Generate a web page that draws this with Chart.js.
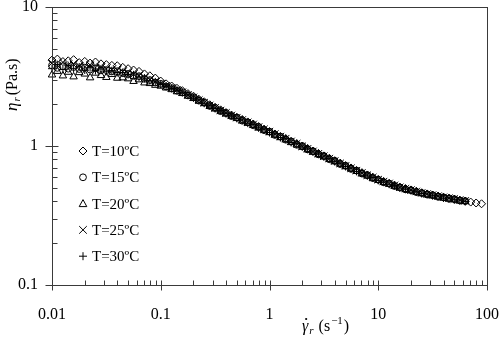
<!DOCTYPE html>
<html>
<head>
<meta charset="utf-8">
<script src="https://cdn.jsdelivr.net/npm/chart.js@4.4.0/dist/chart.umd.min.js"></script>
<style>
  html, body { margin: 0; padding: 0; background: #fff; }
  #wrap { width: 502px; height: 346px; }
</style>
</head>
<body>
<div id="wrap"><canvas id="viscChart"></canvas></div>
<script>
// reduced shear rate (s^-1)
var shearRate = [
  0.01, 0.0112, 0.0126, 0.0141, 0.0158, 0.0178, 0.02, 0.0224, 0.0251, 0.0282,
  0.0316, 0.0355, 0.0398, 0.0447, 0.0501, 0.0562, 0.0631, 0.0708, 0.0794, 0.0891,
  0.1, 0.112, 0.126, 0.141, 0.158, 0.178, 0.2, 0.224, 0.251, 0.282,
  0.316, 0.355, 0.398, 0.447, 0.501, 0.562, 0.631, 0.708, 0.794, 0.891,
  1, 1.12, 1.26, 1.41, 1.58, 1.78, 2, 2.24, 2.51, 2.82,
  3.16, 3.55, 3.98, 4.47, 5.01, 5.62, 6.31, 7.08, 7.94, 8.91,
  10, 11.2, 12.6, 14.1, 15.8, 17.8, 20, 22.4, 25.1, 28.2,
  31.6, 35.5, 39.8, 44.7, 50.1, 56.2, 63.1, 70.8, 79.4, 89.1
];

// reduced viscosity (Pa.s) per temperature
var eta10 = [
  4.15, 4.22, 4.05, 4.10, 4.18, 3.98, 4.06, 3.95, 4.02, 3.90,
  3.85, 3.80, 3.78, 3.68, 3.60, 3.52, 3.44, 3.30, 3.20, 3.08,
  2.93, 2.80, 2.70, 2.60, 2.50, 2.38, 2.28, 2.17, 2.08, 1.98,
  1.90, 1.82, 1.74, 1.67, 1.61, 1.55, 1.49, 1.44, 1.38, 1.32,
  1.27, 1.22, 1.17, 1.13, 1.08, 1.04, 1.00, 0.96, 0.92, 0.884,
  0.849, 0.816, 0.784, 0.753, 0.723, 0.695, 0.667, 0.643, 0.619, 0.596,
  0.575, 0.556, 0.539, 0.523, 0.506, 0.494, 0.483, 0.472, 0.461, 0.452,
  0.444, 0.436, 0.428, 0.421, 0.414, 0.407, 0.401, 0.395, 0.389, 0.384
];
var eta15 = [
  3.80, 3.65, 3.75, 3.60, 3.70, 3.58, 3.66, 3.55, 3.62, 3.50,
  3.52, 3.44, 3.45, 3.34, 3.30, 3.20, 3.18, 3.04, 2.98, 2.86,
  2.80, 2.68, 2.61, 2.50, 2.44, 2.31, 2.24, 2.12, 2.05, 1.94,
  1.88, 1.78, 1.73, 1.64, 1.60, 1.52, 1.48, 1.41, 1.37, 1.30,
  1.27, 1.20, 1.17, 1.11, 1.08, 1.02, 1.00, 0.944, 0.918, 0.870,
  0.848, 0.803, 0.782, 0.741, 0.721, 0.684, 0.666, 0.633, 0.617, 0.587,
  0.572, 0.548, 0.537, 0.515, 0.504, 0.487, 0.481, 0.466, 0.459, 0.447,
  0.443, 0.431, 0.427, 0.417, 0.415, 0.405, 0.402, null, null, null
];
var eta20 = [
  3.25, 3.45, 3.20, 3.40, 3.15, 3.38, 3.30, 3.10, 3.35, 3.22,
  3.12, 3.28, 3.08, 3.10, 3.05, 2.92, 3.00, 2.85, 2.82, 2.74,
  2.70, 2.62, 2.55, 2.46, 2.39, 2.29, 2.20, 2.11, 2.02, 1.93,
  1.85, 1.78, 1.70, 1.64, 1.58, 1.52, 1.46, 1.41, 1.35, 1.30,
  1.25, 1.20, 1.15, 1.11, 1.06, 1.02, 0.98, 0.942, 0.903, 0.869,
  0.835, 0.802, 0.771, 0.741, 0.711, 0.684, 0.657, 0.633, 0.609, 0.587,
  0.566, 0.548, 0.531, 0.515, 0.499, 0.488, 0.477, 0.466, 0.455, 0.447,
  0.439, 0.431, 0.423, 0.417, 0.411, 0.404, 0.399, null, null, null
];
var eta25 = [
  3.95, 3.80, 4.00, 3.75, 3.85, 3.78, 3.70, 3.82, 3.65, 3.68,
  3.58, 3.55, 3.50, 3.42, 3.35, 3.28, 3.20, 3.10, 3.00, 2.91,
  2.81, 2.71, 2.62, 2.53, 2.44, 2.33, 2.24, 2.14, 2.05, 1.96,
  1.88, 1.80, 1.73, 1.66, 1.60, 1.54, 1.48, 1.43, 1.37, 1.32,
  1.27, 1.22, 1.17, 1.13, 1.08, 1.04, 0.995, 0.955, 0.915, 0.880,
  0.845, 0.812, 0.780, 0.750, 0.720, 0.692, 0.665, 0.641, 0.617, 0.594,
  0.573, 0.555, 0.538, 0.521, 0.505, 0.493, 0.482, 0.471, 0.460, 0.452,
  0.444, 0.436, 0.428, 0.422, 0.416, 0.409, 0.403, null, null, null
];
var eta30 = [
  3.60, 3.85, 3.55, 3.78, 3.62, 3.70, 3.52, 3.66, 3.50, 3.58,
  3.45, 3.48, 3.38, 3.38, 3.27, 3.25, 3.14, 3.08, 2.95, 2.89,
  2.78, 2.70, 2.59, 2.52, 2.42, 2.33, 2.22, 2.14, 2.03, 1.96,
  1.86, 1.80, 1.71, 1.66, 1.58, 1.54, 1.46, 1.43, 1.35, 1.32,
  1.25, 1.22, 1.15, 1.13, 1.06, 1.04, 0.985, 0.955, 0.905, 0.880,
  0.836, 0.812, 0.772, 0.750, 0.712, 0.692, 0.657, 0.640, 0.610, 0.593,
  0.566, 0.553, 0.531, 0.520, 0.499, 0.492, 0.477, 0.470, 0.455, 0.451,
  0.439, 0.435, 0.423, 0.421, 0.411, 0.408, 0.399, null, null, null
];

var seriesLabels = ["T=10ºC", "T=15ºC", "T=20ºC", "T=25ºC", "T=30ºC"];
var seriesStyles = ["rectRot", "circle", "triangle", "crossRot", "cross"];
var seriesRadius = [4, 3.4, 4.3, 5.2, 4];

var xTickValues = [0.01, 0.1, 1, 10, 100];
var xTickLabels = ["0.01", "0.1", "1", "10", "100"];
var yTickValues = [0.1, 1, 10];
var yTickLabels = ["0.1", "1", "10"];

var serif = "'Liberation Serif', 'Times New Roman', serif";
var axisColor = '#3a3a3a';

function toPoints(ys) {
    var pts = [];
    for (var i = 0; i < shearRate.length; i++) {
        if (ys[i] != null) pts.push({ x: shearRate[i], y: ys[i] });
    }
    return pts;
}

var allSeries = [eta10, eta15, eta20, eta25, eta30];
var datasets = allSeries.map(function (ys, i) {
    return {
        label: seriesLabels[i],
        data: toPoints(ys),
        pointStyle: seriesStyles[i],
        pointRadius: seriesRadius[i],
        pointBorderWidth: 1,
        borderColor: '#000',
        backgroundColor: 'rgba(0,0,0,0)',
        showLine: false,
        clip: false
    };
});

// marker shapes for the in-plot legend
function drawMarker(ctx, style, x, y, r) {
    ctx.beginPath();
    if (style === 'circle') {
        ctx.arc(x, y, r, 0, Math.PI * 2);
    } else if (style === 'rectRot') {
        ctx.moveTo(x, y - r); ctx.lineTo(x + r, y); ctx.lineTo(x, y + r); ctx.lineTo(x - r, y); ctx.closePath();
    } else if (style === 'triangle') {
        ctx.moveTo(x, y - r); ctx.lineTo(x + r * 0.95, y + r * 0.75); ctx.lineTo(x - r * 0.95, y + r * 0.75); ctx.closePath();
    } else if (style === 'crossRot') {
        ctx.moveTo(x - r, y - r); ctx.lineTo(x + r, y + r); ctx.moveTo(x + r, y - r); ctx.lineTo(x - r, y + r);
    } else {
        ctx.moveTo(x - r, y); ctx.lineTo(x + r, y); ctx.moveTo(x, y - r); ctx.lineTo(x, y + r);
    }
    ctx.stroke();
}

var framePlugin = {
    id: 'frame',
    afterDraw: function (chart) {
        var ctx = chart.ctx;
        var a = chart.chartArea;
        var xs = chart.scales.x, ys = chart.scales.y;
        ctx.save();
        ctx.strokeStyle = axisColor;
        ctx.lineWidth = 1;
        // box
        ctx.strokeRect(Math.round(a.left) + 0.5, Math.round(a.top) + 0.5,
            Math.round(a.right - a.left), Math.round(a.bottom - a.top));

        ctx.beginPath();
        var bottom = Math.round(a.bottom) + 0.5, left = Math.round(a.left) + 0.5;
        // x ticks
        for (var e = -2; e <= 2; e++) {
            var base = Math.pow(10, e);
            var px = Math.round(xs.getPixelForValue(base)) + 0.5;
            ctx.moveTo(px, bottom - 5); ctx.lineTo(px, bottom + 5);
            if (e < 2) {
                for (var m = 2; m <= 9; m++) {
                    var mx = Math.round(xs.getPixelForValue(base * m)) + 0.5;
                    ctx.moveTo(mx, bottom); ctx.lineTo(mx, bottom - 5);
                }
            }
        }
        // y ticks
        for (var k = -1; k <= 1; k++) {
            var b = Math.pow(10, k);
            var py = Math.round(ys.getPixelForValue(b)) + 0.5;
            ctx.moveTo(left - 7, py); ctx.lineTo(left + 6, py);
            if (k < 1) {
                for (var n = 2; n <= 9; n++) {
                    var my = Math.round(ys.getPixelForValue(b * n)) + 0.5;
                    ctx.moveTo(left, my); ctx.lineTo(left + 5, my);
                }
            }
        }
        ctx.stroke();

        // legend inside the plot
        ctx.strokeStyle = '#000';
        ctx.fillStyle = '#000';
        ctx.font = '15px ' + serif;
        ctx.textBaseline = 'middle';
        ctx.textAlign = 'left';
        var legendR = [4, 3.4, 4, 3.8, 4];
        chart.data.datasets.forEach(function (ds, i) {
            var ly = a.top + 144 + i * 26.3;
            ctx.lineWidth = 1;
            drawMarker(ctx, ds.pointStyle, a.left + 31, ly, legendR[i]);
            ctx.fillText(ds.label, a.left + 40, ly + 1);
        });

        // y title: eta_r (Pa.s)
        ctx.save();
        ctx.translate(17, 111);
        ctx.rotate(-Math.PI / 2);
        ctx.textBaseline = 'alphabetic';
        ctx.font = 'italic 17px ' + serif;
        ctx.fillText('η', 0, 0);
        var w = ctx.measureText('η').width;
        ctx.font = 'italic 11px ' + serif;
        ctx.fillText('r', w + 1, 3);
        var w2 = w + 1 + ctx.measureText('r').width;
        ctx.font = '16px ' + serif;
        ctx.fillText('(Pa.s)', w2 + 2, 0);
        ctx.restore();

        // x title: gamma-dot_r (s^-1)
        var tx = 302, ty = 331;
        ctx.textBaseline = 'alphabetic';
        ctx.font = 'italic 16px ' + serif;
        ctx.fillText('γ', tx, ty);
        var gw = ctx.measureText('γ').width;
        ctx.beginPath();
        ctx.arc(tx + gw / 2 + 1, ty - 12, 1.1, 0, Math.PI * 2);
        ctx.fill();
        ctx.font = 'italic 11px ' + serif;
        ctx.fillText('r', tx + gw + 1, ty + 3);
        var cx = tx + gw + 1 + ctx.measureText('r').width + 5;
        ctx.font = '16px ' + serif;
        ctx.fillText('(s', cx, ty);
        cx += ctx.measureText('(s').width;
        ctx.font = '11px ' + serif;
        ctx.fillText('−1', cx + 1, ty - 7);
        cx += ctx.measureText('−1').width + 2;
        ctx.font = '16px ' + serif;
        ctx.fillText(')', cx, ty);
        ctx.restore();
    }
};

var ctxV = document.getElementById('viscChart').getContext('2d');
var viscChart = new Chart(ctxV, {
    type: 'scatter',
    data: { datasets: datasets },
    options: {
        responsive: true,
        maintainAspectRatio: false,
        animation: false,
        layout: { padding: { top: 7, right: 15, left: 0, bottom: 0 } },
        plugins: {
            legend: { display: false },
            tooltip: { enabled: false }
        },
        scales: {
            x: {
                type: 'logarithmic',
                min: 0.01,
                max: 100,
                grid: { display: false, drawTicks: false },
                border: { display: false },
                afterBuildTicks: function (scale) {
                    scale.ticks = xTickValues.map(function (v) { return { value: v }; });
                },
                afterFit: function (scale) {
                    scale.height = 61;
                    scale.paddingLeft = 0;
                    scale.paddingRight = 0;
                },
                ticks: {
                    autoSkip: false,
                    maxRotation: 0,
                    padding: 20,
                    color: '#000',
                    font: { family: serif, size: 16 },
                    callback: function (v, i) { return xTickLabels[i]; }
                }
            },
            y: {
                type: 'logarithmic',
                min: 0.1,
                max: 10,
                grid: { display: false, drawTicks: false },
                border: { display: false },
                afterBuildTicks: function (scale) {
                    scale.ticks = yTickValues.map(function (v) { return { value: v }; });
                },
                afterFit: function (scale) {
                    scale.width = 52;
                    scale.paddingTop = 0;
                    scale.paddingBottom = 0;
                },
                ticks: {
                    autoSkip: false,
                    padding: 14,
                    color: '#000',
                    font: { family: serif, size: 16 },
                    callback: function (v, i) { return yTickLabels[i]; }
                }
            }
        }
    },
    plugins: [framePlugin]
});
</script>
</body>
</html>
